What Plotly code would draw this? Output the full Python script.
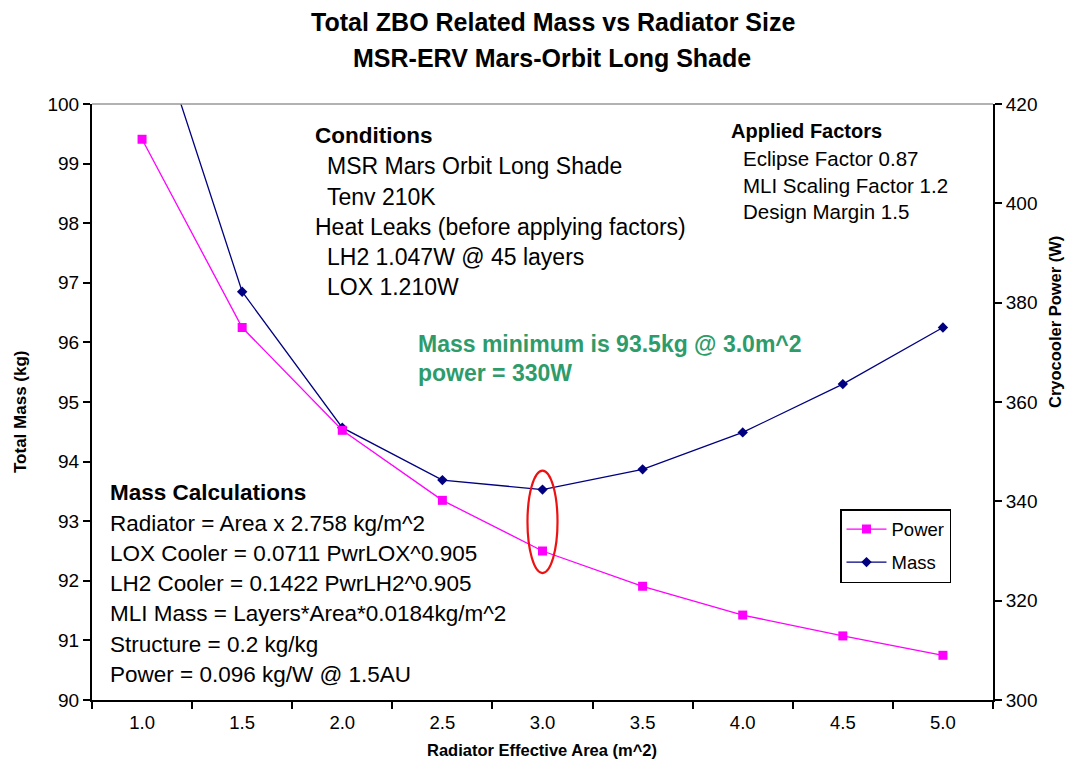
import plotly.graph_objects as go

# ---- data ----
areas = ["1.0", "1.5", "2.0", "2.5", "3.0", "3.5", "4.0", "4.5", "5.0"]
mass_kg = [102.0, 96.85, 94.57, 93.69, 93.53, 93.87, 94.49, 95.30, 96.25]
power_w = [412.9, 375.0, 354.3, 340.2, 330.0, 322.9, 317.1, 312.9, 309.0]

left_ticks = [90, 91, 92, 93, 94, 95, 96, 97, 98, 99, 100]
right_ticks = [300, 320, 340, 360, 380, 400, 420]

conditions = ["MSR Mars Orbit Long Shade", "Tenv 210K"]
heat_leaks = ["LH2 1.047W @ 45 layers", "LOX 1.210W"]
factors = ["Eclipse Factor 0.87", "MLI Scaling Factor 1.2", "Design Margin 1.5"]
mass_calcs = [
    "Radiator = Area x 2.758 kg/m^2",
    "LOX Cooler = 0.0711 PwrLOX^0.905",
    "LH2 Cooler = 0.1422 PwrLH2^0.905",
    "MLI Mass = Layers*Area*0.0184kg/m^2",
    "Structure = 0.2 kg/kg",
    "Power = 0.096 kg/W @ 1.5AU",
]

# ---- layout geometry (page body has an 8px margin) ----
OFF = 8
W, H = 1059, 756
ML, MR, MT, MB = 84, 74, 96, 64
PW, PH = W - ML - MR, H - MT - MB
FONT = "Liberation Sans, Arial, sans-serif"


def px(x):
    return (x - OFF - ML) / PW


def py(y):
    return (H - MB - (y - OFF)) / PH


fig = go.Figure()

fig.add_trace(go.Scatter(
    x=areas, y=power_w, name="Power", yaxis="y2", legendgroup="p",
    mode="lines+markers",
    line=dict(color="#FF00FF", width=1.3),
    marker=dict(symbol="square", size=9, color="#FF00FF"),
))
fig.add_trace(go.Scatter(
    x=areas, y=mass_kg, name="Mass", yaxis="y", legendgroup="m",
    mode="lines+markers",
    line=dict(color="#000080", width=1.3),
    marker=dict(symbol="diamond", size=8, color="#000080"),
))

annotations = []


def txt(x, y, s, size=18, bold=False, color="black"):
    annotations.append(dict(
        xref="paper", yref="paper", x=px(x), y=py(y), text=("<b>%s</b>" % s) if bold else s,
        showarrow=False, xanchor="left", yanchor="middle",
        font=dict(family=FONT, size=size, color=color),
    ))


txt(313, 135, "Conditions", 22.5, True)
for i, s in enumerate(conditions):
    txt(325, 166 + 31 * i, s, 23)
txt(313, 227, "Heat Leaks (before applying factors)", 23)
for i, s in enumerate(heat_leaks):
    txt(325, 257 + 30 * i, s, 23)

txt(729, 131, "Applied Factors", 20, True)
for i, s in enumerate(factors):
    txt(741, 159 + 26.5 * i, s, 20.5)

txt(416, 344, "Mass minimum is 93.5kg @ 3.0m^2", 23, True, "#2E9B6A")
txt(416, 373, "power = 330W", 23, True, "#2E9B6A")

txt(108, 492, "Mass Calculations", 22.5, True)
for i, s in enumerate(mass_calcs):
    txt(108, 523 + 30.3 * i, s, 22.5)

# titles
annotations.append(dict(
    xref="paper", yref="paper", x=px(553), y=py(22), showarrow=False,
    text="<b>Total ZBO Related Mass vs Radiator Size</b>", xanchor="center", yanchor="middle",
    font=dict(family=FONT, size=25, color="black")))
annotations.append(dict(
    xref="paper", yref="paper", x=px(552), y=py(58), showarrow=False,
    text="<b>MSR-ERV Mars-Orbit Long Shade</b>", xanchor="center", yanchor="middle",
    font=dict(family=FONT, size=25, color="black")))
annotations.append(dict(
    xref="paper", yref="paper", x=px(542), y=py(750), showarrow=False,
    text="<b>Radiator Effective Area (m^2)</b>", xanchor="center", yanchor="middle",
    font=dict(family=FONT, size=16.5, color="black")))
annotations.append(dict(
    xref="paper", yref="paper", x=px(20), y=py(412), showarrow=False, textangle=-90,
    text="<b>Total Mass (kg)</b>", xanchor="center", yanchor="middle",
    font=dict(family=FONT, size=17, color="black")))
annotations.append(dict(
    xref="paper", yref="paper", x=px(1055), y=py(322), showarrow=False, textangle=-90,
    text="<b>Cryocooler Power (W)</b>", xanchor="center", yanchor="middle",
    font=dict(family=FONT, size=16.5, color="black")))

shapes = [
    # top border (gray)
    dict(type="line", xref="paper", yref="paper", x0=0, x1=1, y0=1, y1=1,
         line=dict(color="#999999", width=1.5)),
    # red ellipse highlighting minimum
    dict(type="circle", xref="x", yref="y", x0=3.85, x1=4.15, y0=92.13, y1=93.85,
         line=dict(color="#EE1111", width=2.2)),
]

fig.update_layout(
    width=W, height=H,
    margin=dict(l=ML, r=MR, t=MT, b=MB),
    paper_bgcolor="white", plot_bgcolor="white",
    font=dict(family=FONT, size=18, color="black"),
    showlegend=True,
    legend=dict(
        x=px(840), y=py(509), xanchor="left", yanchor="top",
        bordercolor="black", borderwidth=1.5, bgcolor="white",
        font=dict(family=FONT, size=18.5), tracegroupgap=6,
        itemwidth=40,
    ),
    xaxis=dict(
        type="category", range=[-0.5, 8.5], showgrid=False, zeroline=False,
        showline=True, linecolor="black", linewidth=2,
        ticks="outside", tickson="boundaries", ticklen=7, tickcolor="black", tickwidth=1.5,
        tickfont=dict(size=18.5), fixedrange=True, ticklabelstandoff=5,
    ),
    yaxis=dict(
        range=[90, 100], tickvals=left_ticks, showgrid=False, zeroline=False,
        showline=True, linecolor="black", linewidth=2,
        ticks="outside", ticklen=7, tickcolor="black", tickwidth=1.5,
        tickfont=dict(size=19),
    ),
    yaxis2=dict(
        range=[300, 420], tickvals=right_ticks, overlaying="y", side="right",
        showgrid=False, zeroline=False,
        showline=True, linecolor="black", linewidth=2,
        ticks="outside", ticklen=7, tickcolor="black", tickwidth=1.5,
        tickfont=dict(size=19),
    ),
    annotations=annotations,
    shapes=shapes,
)

fig.write_html("out.html")
